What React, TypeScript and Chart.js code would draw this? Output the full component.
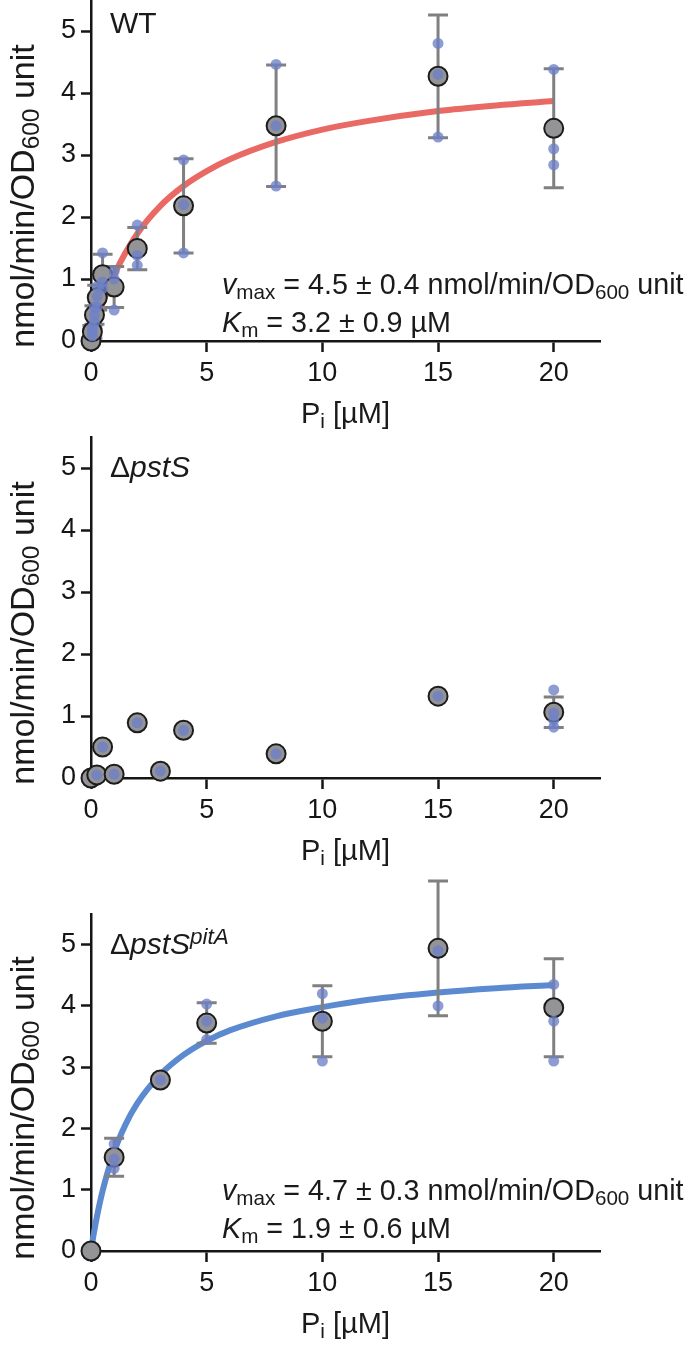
import React, { useEffect, useRef } from 'react';
import { Chart, registerables } from 'chart.js';
Chart.register(...registerables);

const FONT = '"Liberation Sans", Arial, Helvetica, sans-serif';

// ---------- axis settings ----------
const xTickStep = 5;
const xMax = 22;
const yTickStep = 1;
const yMax = 5.5;

// ---------- WT ----------
const wtConc = [0, 0.06, 0.15, 0.27, 0.5, 1, 2, 4, 8, 15, 20];
const wtMean = [0, 0.15, 0.42, 0.7, 1.07, 0.87, 1.49, 2.18, 3.47, 4.27, 3.43];
const wtErr = [0, 0.1, 0.15, 0.2, 0.33, 0.33, 0.34, 0.76, 0.98, 0.99, 0.96];
const wtRepConc = [0.06, 0.06, 0.06, 0.15, 0.15, 0.15, 0.27, 0.27, 0.27, 0.5, 0.5, 0.5, 1, 1, 1, 2, 2, 2, 4, 4, 4, 8, 8, 8, 15, 15, 15, 20, 20, 20];
const wtRepVal = [0.08, 0.15, 0.22, 0.3, 0.42, 0.55, 0.55, 0.72, 0.88, 1.42, 0.95, 0.85, 1.12, 1.0, 0.5, 1.87, 1.38, 1.22, 2.92, 2.2, 1.42, 4.46, 3.47, 2.5, 4.8, 4.3, 3.29, 4.38, 3.1, 2.84];
const wtFitX = [0, 0.5, 1, 2, 3, 4, 5, 6, 8, 10, 12, 15, 17.5, 20];
const wtFitY = [0, 0.61, 1.07, 1.73, 2.18, 2.5, 2.74, 2.93, 3.21, 3.41, 3.55, 3.71, 3.8, 3.87];

// ---------- ΔpstS ----------
const psConc = [0, 0.25, 0.5, 1, 2, 3, 4, 8, 15, 20];
const psMean = [0, 0.05, 0.5, 0.06, 0.89, 0.11, 0.77, 0.39, 1.32, 1.06];
const psErr = [0, 0, 0, 0, 0, 0, 0, 0, 0, 0.245];
const psRepConc = [0.25, 0.5, 1, 2, 3, 4, 8, 15, 20, 20, 20, 20];
const psRepVal = [0.05, 0.5, 0.06, 0.89, 0.11, 0.77, 0.39, 1.32, 1.42, 1.05, 0.93, 0.82];

// ---------- ΔpstS pitA ----------
const paConc = [0, 1, 3, 5, 10, 15, 20];
const paMean = [0, 1.53, 2.79, 3.72, 3.75, 4.94, 3.97];
const paErr = [0, 0.31, 0, 0.33, 0.58, 1.1, 0.8];
const paRepConc = [1, 1, 1, 3, 5, 5, 5, 10, 10, 10, 15, 15, 15, 20, 20, 20];
const paRepVal = [1.75, 1.5, 1.35, 2.79, 4.03, 3.75, 3.45, 4.2, 3.8, 3.1, 5.94, 4.9, 4.0, 4.35, 3.75, 3.1];
const paFitX = [0, 0.1, 0.25, 0.5, 1, 1.5, 2, 3, 4, 5, 6, 8, 10, 12, 15, 17.5, 20];
const paFitY = [0, 0.24, 0.55, 0.98, 1.62, 2.07, 2.41, 2.88, 3.2, 3.43, 3.6, 3.83, 3.98, 4.1, 4.22, 4.29, 4.34];

const CANVAS_W = 685;
const PAD_TOP = 40;
const X_AXIS_H = 90;
const AXIS_LEFT = 91;
const AXIS_RIGHT = 600;

type PanelProps = {
  top: number;
  areaH: number;
  conc: number[];
  mean: number[];
  err: number[];
  repConc: number[];
  repVal: number[];
  fitX?: number[];
  fitY?: number[];
  fitColor?: string;
};

function Panel(p: PanelProps) {
  const ref = useRef<HTMLCanvasElement>(null);
  const canvasH = PAD_TOP + p.areaH + X_AXIS_H;
  useEffect(() => {
    if (!ref.current) return;
    const errPlugin = {
      id: 'errbars',
      beforeDatasetDraw(chart: any, args: any) {
        if (args.index !== 1) return;
        const ctx = chart.ctx;
        const xs = chart.scales.x;
        const ys = chart.scales.y;
        ctx.save();
        ctx.strokeStyle = 'rgb(128,128,128)';
        ctx.lineWidth = 3;
        p.conc.forEach((c, i) => {
          const e = p.err[i];
          if (!e) return;
          const x = xs.getPixelForValue(c);
          const y1 = ys.getPixelForValue(p.mean[i] + e);
          const y2 = ys.getPixelForValue(p.mean[i] - e);
          ctx.beginPath();
          ctx.moveTo(x, y1);
          ctx.lineTo(x, y2);
          ctx.moveTo(x - 10, y1);
          ctx.lineTo(x + 10, y1);
          ctx.moveTo(x - 10, y2);
          ctx.lineTo(x + 10, y2);
          ctx.stroke();
        });
        ctx.restore();
      },
    };
    const datasets: any[] = [
      {
        type: 'scatter',
        data: p.repConc.map((c, i) => ({ x: c, y: p.repVal[i] })),
        pointRadius: 5.5,
        pointHoverRadius: 5.5,
        pointBackgroundColor: 'rgba(110,128,200,0.78)',
        pointBorderWidth: 0,
        clip: false,
      },
      {
        type: 'scatter',
        data: p.conc.map((c, i) => ({ x: c, y: p.mean[i] })),
        pointRadius: 9.5,
        pointHoverRadius: 9.5,
        pointBackgroundColor: 'rgb(148,148,150)',
        pointBorderColor: '#1c1c1c',
        pointBorderWidth: 2,
        clip: false,
      },
    ];
    if (p.fitX && p.fitY) {
      datasets.push({
        type: 'line',
        data: p.fitX.map((c, i) => ({ x: c, y: p.fitY![i] })),
        borderColor: p.fitColor,
        borderWidth: 6,
        pointRadius: 0,
        cubicInterpolationMode: 'monotone',
        borderCapStyle: 'butt',
        clip: false,
      });
    } else {
      datasets.push({ type: 'line', data: [], pointRadius: 0 });
    }
    const tickFont = { family: FONT, size: 27 };
    const chart = new Chart(ref.current, {
      type: 'scatter',
      data: { datasets },
      options: {
        animation: false,
        responsive: false,
        events: [],
        layout: { padding: { top: PAD_TOP, left: 0, right: CANVAS_W - AXIS_RIGHT, bottom: 0 } },
        plugins: { legend: { display: false }, tooltip: { enabled: false } },
        scales: {
          x: {
            type: 'linear',
            min: 0,
            max: xMax,
            afterFit: (s: any) => {
              s.height = X_AXIS_H;
              s.paddingLeft = 0;
              s.paddingRight = 0;
            },
            ticks: { stepSize: xTickStep, includeBounds: false, font: tickFont, color: '#151515', padding: 5, maxRotation: 0, autoSkip: false },
            grid: { display: true, drawOnChartArea: false, drawTicks: true, tickLength: 11, tickWidth: 2.5, tickColor: '#151515' },
            border: { display: true, color: '#151515', width: 2.5 },
          },
          y: {
            type: 'linear',
            min: 0,
            max: yMax,
            afterFit: (s: any) => {
              s.width = AXIS_LEFT;
              s.paddingTop = 0;
              s.paddingBottom = 0;
            },
            ticks: { stepSize: yTickStep, includeBounds: false, font: tickFont, color: '#151515', padding: 5 },
            grid: { display: true, drawOnChartArea: false, drawTicks: true, tickLength: 10, tickWidth: 2.5, tickColor: '#151515' },
            border: { display: true, color: '#151515', width: 2.5 },
          },
        },
      } as any,
      plugins: [errPlugin],
    });
    return () => chart.destroy();
  }, []);
  return (
    <canvas
      ref={ref}
      width={CANVAS_W}
      height={canvasH}
      style={{ position: 'absolute', left: 0, top: p.top - PAD_TOP, width: CANVAS_W, height: canvasH }}
    />
  );
}

const sub: React.CSSProperties = { fontSize: '0.72em', position: 'relative', top: '0.22em' };
const txt: React.CSSProperties = {
  position: 'absolute',
  fontFamily: FONT,
  color: '#1a1a1a',
  whiteSpace: 'nowrap',
  lineHeight: 1,
  transform: 'translateY(-50%)',
};

function YTitle({ cy }: { cy: number }) {
  return (
    <div style={{ ...txt, left: 22, top: cy, fontSize: 34, transform: 'translate(-50%,-50%) rotate(-90deg)' }}>
      nmol/min/OD<span style={sub}>600</span> unit
    </div>
  );
}

function XTitle({ cy }: { cy: number }) {
  return (
    <div style={{ ...txt, left: (AXIS_LEFT + AXIS_RIGHT) / 2, top: cy, fontSize: 29, transform: 'translate(-50%,-50%)' }}>
      P<span style={sub}>i</span> [µM]
    </div>
  );
}

function Annot({ top, v, k }: { top: number; v: string; k: string }) {
  return (
    <>
      <div style={{ ...txt, left: 222, top, fontSize: 28.7 }}>
        <i>v</i>
        <span style={sub}>max</span> = {v} nmol/min/OD<span style={sub}>600</span> unit
      </div>
      <div style={{ ...txt, left: 222, top: top + 38, fontSize: 28.7 }}>
        <i>K</i>
        <span style={sub}>m</span> = {k} µM
      </div>
    </>
  );
}

export default function App() {
  const p1 = 0;
  const h1 = 341;
  const p2 = 437;
  const h2 = 341;
  const p3 = 914;
  const h3 = 337;
  return (
    <div style={{ position: 'absolute', left: 0, top: 0, width: 685, height: 1352, background: '#fff', overflow: 'hidden' }}>
      <Panel top={p1} areaH={h1} conc={wtConc} mean={wtMean} err={wtErr} repConc={wtRepConc} repVal={wtRepVal} fitX={wtFitX} fitY={wtFitY} fitColor="rgb(233,106,100)" />
      <Panel top={p2} areaH={h2} conc={psConc} mean={psMean} err={psErr} repConc={psRepConc} repVal={psRepVal} />
      <Panel top={p3} areaH={h3} conc={paConc} mean={paMean} err={paErr} repConc={paRepConc} repVal={paRepVal} fitX={paFitX} fitY={paFitY} fitColor="rgb(92,138,208)" />

      <div style={{ ...txt, left: 110, top: 23, fontSize: 30 }}>WT</div>
      <div style={{ ...txt, left: 110, top: p2 + 30, fontSize: 30 }}>
        Δ<i>pstS</i>
      </div>
      <div style={{ ...txt, left: 110, top: p3 + 30, fontSize: 30 }}>
        Δ<i>pstS</i>
        <i style={{ fontSize: '0.75em', position: 'relative', top: '-0.45em' }}>pitA</i>
      </div>

      <YTitle cy={p1 + h1 / 2 + 25} />
      <YTitle cy={p2 + h2 / 2 + 25} />
      <YTitle cy={p3 + h3 / 2 + 25} />

      <XTitle cy={p1 + h1 + 72} />
      <XTitle cy={p2 + h2 + 72} />
      <XTitle cy={p3 + h3 + 72} />

      <Annot top={284} v="4.5 ± 0.4" k="3.2 ± 0.9" />
      <Annot top={p3 + h3 - 61} v="4.7 ± 0.3" k="1.9 ± 0.6" />
    </div>
  );
}
